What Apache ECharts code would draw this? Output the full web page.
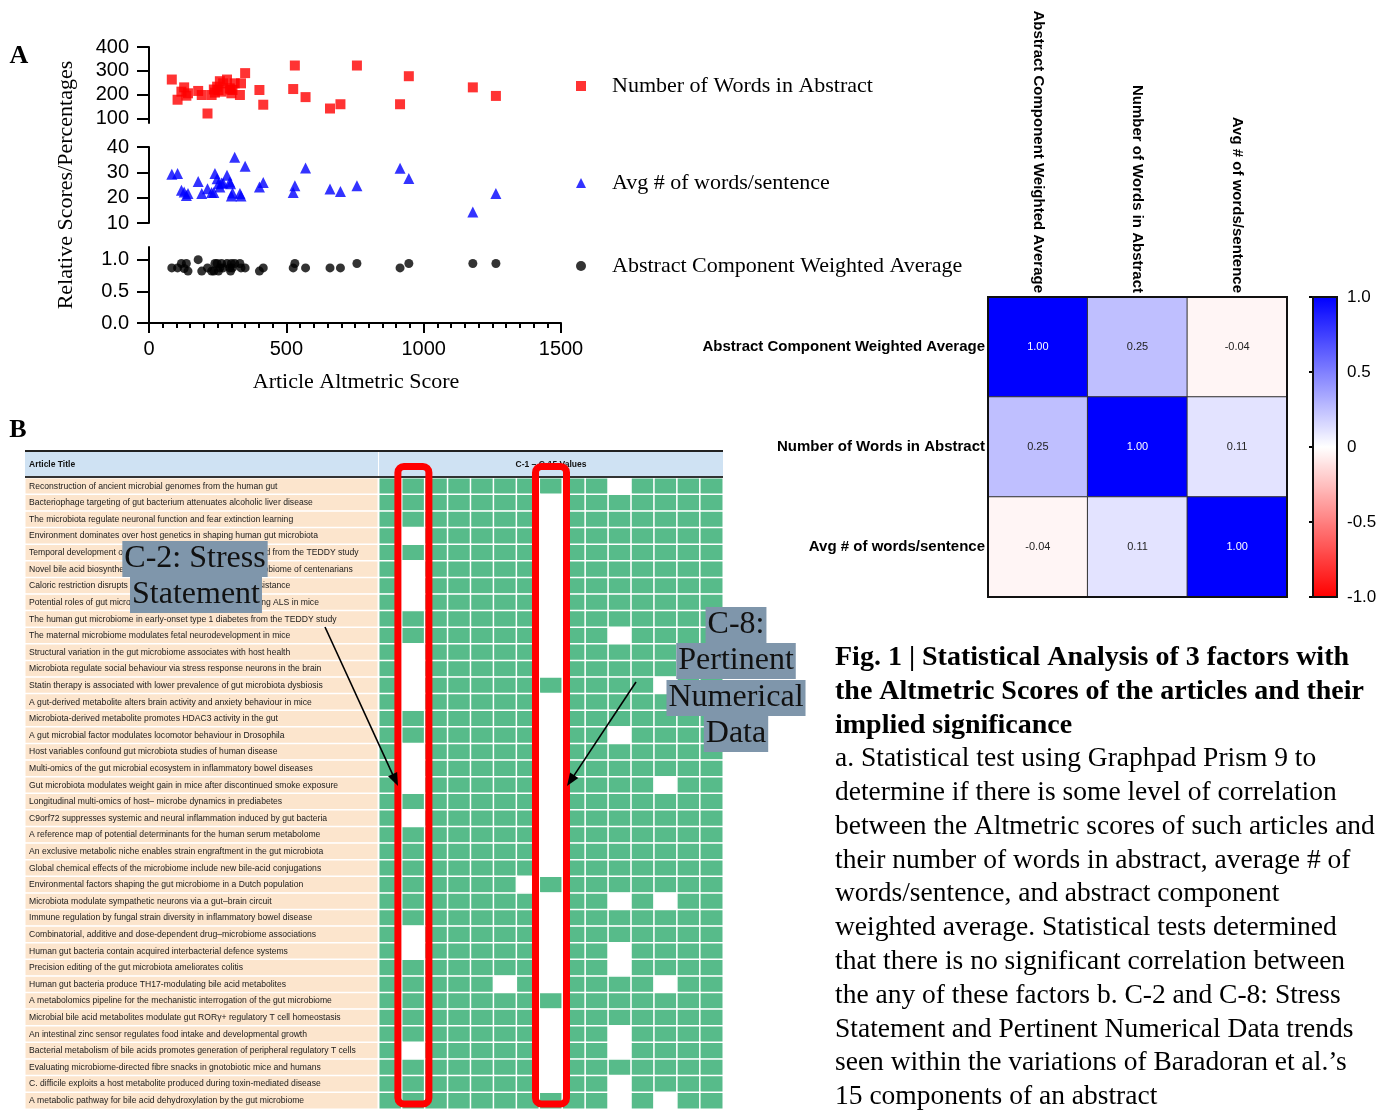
<!DOCTYPE html>
<html><head><meta charset="utf-8">
<script src="https://cdn.jsdelivr.net/npm/echarts@6/dist/echarts.min.js"></script>
<style>html,body{margin:0;padding:0;background:#fff}#c{width:1387px;height:1110px}</style>
</head><body><div id="c"></div><script>
// ---------- Panel A data ----------
const altmetric = [83,104,118,128,136,142,179,192,213,236,240,248,253,258,264,270,284,294,297,304,312,331,335,350,402,416,525,531,570,659,697,757,914,946,1179,1263,300,228];
const wordsInAbstract = [263,178,212,230,195,205,215,198,120,221,208,233,219,256,212,247,263,226,221,219,247,198,247,290,219,157,223,322,189,141,159,322,159,277,230,194,205,198];
const wordsPerSentence = [29.2,29.5,22.9,22.2,20.9,21.6,26.4,21.6,23.5,22,29.5,27.5,25.5,24.2,25.8,25.8,28.8,26.2,25.5,21.8,36,21.6,20.7,32.4,24.2,26,22,24.7,31.7,23.4,22.4,24.7,31.6,27.6,14.3,21.6,20.7,22];
const weightedAvg = [0.87,0.87,0.94,0.86,0.94,0.82,1.0,0.82,0.87,0.82,0.94,0.94,0.82,0.87,0.94,0.87,0.94,0.87,0.82,0.87,0.94,0.94,0.87,0.87,0.82,0.87,0.87,0.94,0.87,0.87,0.87,0.94,0.87,0.94,0.94,0.94,0.94,0.82];
const seriesNames = ['Number of Words in Abstract','Avg # of words/sentence','Abstract Component Weighted Average'];

// ---------- Correlation matrix ----------
const corrLabels = ['Abstract Component Weighted Average','Number of Words in Abstract','Avg # of words/sentence'];
const corrValues = [
  [1.00, 0.25, -0.04],
  [0.25, 1.00, 0.11],
  [-0.04, 0.11, 1.00]
];

// ---------- Panel B data ----------
const articleTitles = [
 'Reconstruction of ancient microbial genomes from the human gut',
 'Bacteriophage targeting of gut bacterium attenuates alcoholic liver disease',
 'The microbiota regulate neuronal function and fear extinction learning',
 'Environment dominates over host genetics in shaping human gut microbiota',
 'Temporal development of the gut microbiome in early childhood from the TEDDY study',
 'Novel bile acid biosynthetic pathways are enriched in the microbiome of centenarians',
 'Caloric restriction disrupts the microbiota and colonization resistance',
 'Potential roles of gut microbiome and metabolites in modulating ALS in mice',
 'The human gut microbiome in early-onset type 1 diabetes from the TEDDY study',
 'The maternal microbiome modulates fetal neurodevelopment in mice',
 'Structural variation in the gut microbiome associates with host health',
 'Microbiota regulate social behaviour via stress response neurons in the brain',
 'Statin therapy is associated with lower prevalence of gut microbiota dysbiosis',
 'A gut-derived metabolite alters brain activity and anxiety behaviour in mice',
 'Microbiota-derived metabolite promotes HDAC3 activity in the gut',
 'A gut microbial factor modulates locomotor behaviour in Drosophila',
 'Host variables confound gut microbiota studies of human disease',
 'Multi-omics of the gut microbial ecosystem in inflammatory bowel diseases',
 'Gut microbiota modulates weight gain in mice after discontinued smoke exposure',
 'Longitudinal multi-omics of host\u2013 microbe dynamics in prediabetes',
 'C9orf72 suppresses systemic and neural inflammation induced by gut bacteria',
 'A reference map of potential determinants for the human serum metabolome',
 'An exclusive metabolic niche enables strain engraftment in the gut microbiota',
 'Global chemical effects of the microbiome include new bile-acid conjugations',
 'Environmental factors shaping the gut microbiome in a Dutch population',
 'Microbiota modulate sympathetic neurons via a gut\u2013brain circuit',
 'Immune regulation by fungal strain diversity in inflammatory bowel disease',
 'Combinatorial, additive and dose-dependent drug\u2013microbiome associations',
 'Human gut bacteria contain acquired interbacterial defence systems',
 'Precision editing of the gut microbiota ameliorates colitis',
 'Human gut bacteria produce TH17-modulating bile acid metabolites',
 'A metabolomics pipeline for the mechanistic interrogation of the gut microbiome',
 'Microbial bile acid metabolites modulate gut ROR\u03b3+ regulatory T cell homeostasis',
 'An intestinal zinc sensor regulates food intake and developmental growth',
 'Bacterial metabolism of bile acids promotes generation of peripheral regulatory T cells',
 'Evaluating microbiome-directed fibre snacks in gnotobiotic mice and humans',
 'C. difficile exploits a host metabolite produced during toxin-mediated disease',
 'A metabolic pathway for bile acid dehydroxylation by the gut microbiome'
];
const componentCols = ['C-1','C-2','C-3','C-4','C-5','C-6','C-7','C-8','C-9','C-10','C-11','C-12','C-13','C-14','C-15'];
// 1 = component present (green), 0 = absent (white); one string per article row
const componentRows = [
 '111111111101111','111111101111111','111111101111111','101111101111111','111111101111111',
 '101111101111111','101111101111111','101111101111111','111111101111111','111111101101111',
 '101111101111111','101111101111111','101111111111011','101111101111111','111111101111111',
 '111111101101111','101111101111111','101111101111111','101111101111011','111111101111111',
 '101111101111111','111111101111111','111111101111111','111111101111111','111111011111111',
 '111111101101011','111111101111111','101111101111111','101111101101111','111111101101111',
 '111110101111011','111111111111111','111111101111111','111111101101111','101111101101111',
 '111111101111111','111111101101111','111111111101011'
];

const SERIF = 'Liberation Serif', SANS = 'Liberation Sans';
const chart = echarts.init(document.getElementById('c'), null, {renderer:'canvas'});

const axLine = {show:true, lineStyle:{color:'#000', width:2}};
const yLab = {color:'#000', fontFamily:SANS, fontSize:20, margin:20};
const gridA = (top)=>({left:149, top:top, width:412, height:76});

const corrData = [];
corrValues.forEach((row,i)=>row.forEach((v,j)=>{
  corrData.push({value:[j,i,v], label:{color: v>0.7?'#fff':'#222'}});
}));
const titleData = articleTitles.map((t,i)=>({value:[0,i,1], itemStyle:{color:'#FCE5CD'}}));
const cellData = [];
componentRows.forEach((s,r)=>{ for(let c=0;c<s.length;c++){ const v=+s[c];
  cellData.push({value:[c,r,v], itemStyle:{color: v? '#57BB8A':'#FFFFFF'}}); }});

const option = {
  animation:false,
  backgroundColor:'#fff',
  grid:[gridA(47), gridA(147), gridA(247),
        {left:988, top:297, width:299, height:300},
        {left:1313, top:297, width:24, height:300},
        {left:25, top:478, width:353, height:631},
        {left:379, top:478, width:344, height:631}],
  xAxis:[
    {gridIndex:0, type:'value', min:0, max:1500, show:false},
    {gridIndex:1, type:'value', min:0, max:1500, show:false},
    {gridIndex:2, type:'value', min:0, max:1500, interval:500, axisLine:axLine,
      axisTick:{length:10, lineStyle:{width:2,color:'#000'}},
      minorTick:{show:true, splitNumber:10, length:5, lineStyle:{width:2,color:'#000'}},
      splitLine:{show:false}, minorSplitLine:{show:false},
      axisLabel:{color:'#000', fontFamily:SANS, fontSize:20, margin:16, formatter:v=>String(v)}},
    {gridIndex:3, type:'category', position:'top', data:corrLabels, axisLine:{show:false}, axisTick:{show:false},
      axisLabel:{rotate:90, interval:0, margin:4, fontFamily:SANS, fontWeight:'bold', fontSize:15, color:'#000'}},
    {gridIndex:4, type:'value', min:0, max:1, show:false},
    {gridIndex:5, type:'category', data:['Article Title'], show:false},
    {gridIndex:6, type:'category', data:componentCols, show:false}
  ],
  yAxis:[
    {gridIndex:0, type:'value', min:80, max:400, axisLine:axLine, splitLine:{show:false},
      axisTick:{show:true, length:12, lineStyle:{width:2,color:'#000'}, customValues:[100,200,300,400]},
      axisLabel:Object.assign({customValues:[100,200,300,400]}, yLab)},
    {gridIndex:1, type:'value', min:10, max:40, interval:10, axisLine:axLine, splitLine:{show:false},
      axisTick:{show:true, length:12, lineStyle:{width:2,color:'#000'}}, axisLabel:yLab},
    {gridIndex:2, type:'value', min:0, max:1.2, axisLine:axLine, splitLine:{show:false},
      axisTick:{show:true, length:12, lineStyle:{width:2,color:'#000'}, customValues:[0,0.5,1]},
      axisLabel:Object.assign({customValues:[0,0.5,1], formatter:v=>v.toFixed(1)}, yLab)},
    {gridIndex:3, type:'category', inverse:true, data:corrLabels, axisLine:{show:false}, axisTick:{show:false},
      axisLabel:{interval:0, margin:3, fontFamily:SANS, fontWeight:'bold', fontSize:15, color:'#000'}},
    {gridIndex:4, type:'value', position:'right', min:-1, max:1, interval:0.5, axisLine:{show:false}, splitLine:{show:false},
      axisTick:{show:true, inside:true, length:4, lineStyle:{color:'#000', width:2}},
      axisLabel:{fontFamily:SANS, fontSize:17, color:'#000', margin:10, formatter:v=>v===0?'0':v.toFixed(1)}},
    {gridIndex:4, type:'value', position:'left', min:-1, max:1, interval:0.5, axisLine:{show:false}, splitLine:{show:false},
      axisTick:{show:true, inside:true, length:4, lineStyle:{color:'#000', width:2}}, axisLabel:{show:false}},
    {gridIndex:5, type:'category', inverse:true, data:articleTitles, z:10, axisLine:{show:false}, axisTick:{show:false},
      axisLabel:{inside:true, interval:0, margin:4, fontFamily:SANS, fontSize:8.6, color:'#1a1a1a'}},
    {gridIndex:6, type:'category', inverse:true, data:articleTitles, show:false}
  ],
  legend:[
    {data:[{name:seriesNames[0], icon:'rect'}], left:571, top:69},
    {data:[{name:seriesNames[1], icon:'triangle'}], left:571, top:166},
    {data:[{name:seriesNames[2], icon:'circle'}], left:571, top:249}
  ].map(l=>Object.assign(l,{selectedMode:false, itemWidth:10, itemHeight:10,
      textStyle:{fontFamily:SERIF, fontSize:22, color:'#000', lineHeight:24, padding:[0,0,0,21]}})),
  visualMap:{type:'continuous', seriesIndex:3, min:-1, max:1, left:1313, top:297, itemWidth:24, itemHeight:300,
    padding:0, calculable:false, hoverLink:false, text:null, inRange:{color:['#ff0000','#ffffff','#0000ff']}},
  series:[
    {type:'scatter', name:seriesNames[0], xAxisIndex:0, yAxisIndex:0, symbol:'rect', symbolSize:10,
      itemStyle:{color:'#ff0000'}, data:altmetric.map((x,i)=>[x, wordsInAbstract[i]])},
    {type:'scatter', name:seriesNames[1], xAxisIndex:1, yAxisIndex:1, symbol:'triangle', symbolSize:11,
      itemStyle:{color:'#0000ff'}, data:altmetric.map((x,i)=>[x, wordsPerSentence[i]])},
    {type:'scatter', name:seriesNames[2], xAxisIndex:2, yAxisIndex:2, symbol:'circle', symbolSize:9,
      itemStyle:{color:'#000'}, data:altmetric.map((x,i)=>[x, weightedAvg[i]])},
    {type:'heatmap', xAxisIndex:3, yAxisIndex:3, data:corrData,
      itemStyle:{borderColor:'#333', borderWidth:1},
      label:{show:true, fontFamily:SANS, fontSize:11, formatter:p=>p.value[2].toFixed(2)}},
    {type:'scatter', xAxisIndex:4, yAxisIndex:4, data:[], silent:true},
    {type:'heatmap', xAxisIndex:5, yAxisIndex:6, data:titleData, itemStyle:{borderColor:'#fff', borderWidth:1.5}},
    {type:'heatmap', xAxisIndex:6, yAxisIndex:7, data:cellData, itemStyle:{borderColor:'#fff', borderWidth:1.5}}
  ]
};
chart.setOption(option);

// ---------- annotations (graphic overlay) ----------
function arrow(x1,y1,x2,y2){
  const dx=x2-x1, dy=y2-y1, L=Math.hypot(dx,dy), ux=dx/L, uy=dy/L, px=-uy, py=ux, h=13, w=5;
  return [
    {type:'line', z:100, shape:{x1,y1,x2:x2-ux*h*0.8,y2:y2-uy*h*0.8}, style:{stroke:'#000', lineWidth:1.6}},
    {type:'polygon', z:100, shape:{points:[[x2,y2],[x2-ux*h+px*w,y2-uy*h+py*w],[x2-ux*h-px*w,y2-uy*h-py*w]]}, style:{fill:'#000'}}
  ];
}
function tag(text,cx,cy){
  return {type:'text', z:101, style:{x:cx, y:cy, text, align:'center', verticalAlign:'middle',
    font:'32px "'+SERIF+'"', fill:'#111', backgroundColor:'#7F96AB', padding:[2,2,1,2], lineHeight:33}};
}
const pC2 = chart.convertToPixel({gridIndex:6}, [1, 0]);
const pC8 = chart.convertToPixel({gridIndex:6}, [7, 0]);
const gTop = 478, gBot = 478+631;
const redBox = (cx)=>({type:'rect', z:99, shape:{x:cx-15.5, y:gTop-11.5, width:31, height:(gBot-5)-(gTop-11.5), r:6},
  style:{fill:'none', stroke:'#ff0000', lineWidth:7}});

const g = [
  {type:'text', style:{x:19, y:56, text:'A', align:'center', verticalAlign:'middle', font:'bold 26px "'+SERIF+'"', fill:'#000'}},
  {type:'text', style:{x:18, y:430, text:'B', align:'center', verticalAlign:'middle', font:'bold 26px "'+SERIF+'"', fill:'#000'}},
  {type:'text', rotation:Math.PI/2, x:66, y:185, style:{x:0, y:0, text:'Relative Scores/Percentages', align:'center', verticalAlign:'middle', font:'22px "'+SERIF+'"', fill:'#000'}},
  {type:'text', style:{x:356, y:382, text:'Article Altmetric Score', align:'center', verticalAlign:'middle', font:'22px "'+SERIF+'"', fill:'#000'}},
  // table header
  {type:'rect', z:1, shape:{x:25, y:452, width:698, height:25}, style:{fill:'#CFE2F3'}},
  {type:'line', z:2, shape:{x1:25, y1:451, x2:723, y2:451}, style:{stroke:'#222', lineWidth:2}},
  {type:'line', z:2, shape:{x1:25, y1:477, x2:723, y2:477}, style:{stroke:'#333', lineWidth:2}},
  {type:'line', z:2, shape:{x1:378.5, y1:452, x2:378.5, y2:476}, style:{stroke:'#fff', lineWidth:1}},
  {type:'text', z:3, style:{x:29, y:464.5, text:'Article Title', verticalAlign:'middle', font:'bold 8.5px "'+SANS+'"', fill:'#111'}},
  {type:'text', z:3, style:{x:551, y:464.5, text:'C-1 \u2013 C-15 Values', align:'center', verticalAlign:'middle', font:'bold 8.5px "'+SANS+'"', fill:'#111'}},
  // correlation frame and colorbar frame
  {type:'rect', z:50, shape:{x:988, y:297, width:299, height:300}, style:{fill:'none', stroke:'#111', lineWidth:2}},
  {type:'rect', z:50, shape:{x:1313, y:297, width:24, height:300}, style:{fill:'none', stroke:'#111', lineWidth:2}},
  // red boxes + callouts
  redBox(pC2[0]), redBox(pC8[0]),
  ...arrow(325,627,398,786), ...arrow(636,682,567,786),
  tag('C-2: Stress',195,559), tag('Statement',196,595),
  tag('C-8:',736,625), tag('Pertinent',736,661), tag('Numerical',736,698), tag('Data',736,734),
  // caption
  {type:'text', style:{x:835, y:641, text:'Fig. 1 | Statistical Analysis of 3 factors with\nthe Altmetric Scores of the articles and their\nimplied significance',
     font:'bold 28px "'+SERIF+'"', fill:'#000', lineHeight:34, verticalAlign:'top'}},
  {type:'text', style:{x:835, y:742, text:[
     'a. Statistical test using Graphpad Prism 9 to',
     'determine if there is some level of correlation',
     'between the Altmetric scores of such articles and',
     'their number of words in abstract, average # of',
     'words/sentence, and abstract component',
     'weighted average. Statistical tests determined',
     'that there is no significant correlation between',
     'the any of these factors b. C-2 and C-8: Stress',
     'Statement and Pertinent Numerical Data trends',
     'seen within the variations of Baradoran et al.\u2019s',
     '15 components of an abstract'].join('\n'),
     font:'27.5px "'+SERIF+'"', fill:'#000', lineHeight:33.8, verticalAlign:'top'}}
];
chart.setOption({graphic:g});
</script></body></html>
